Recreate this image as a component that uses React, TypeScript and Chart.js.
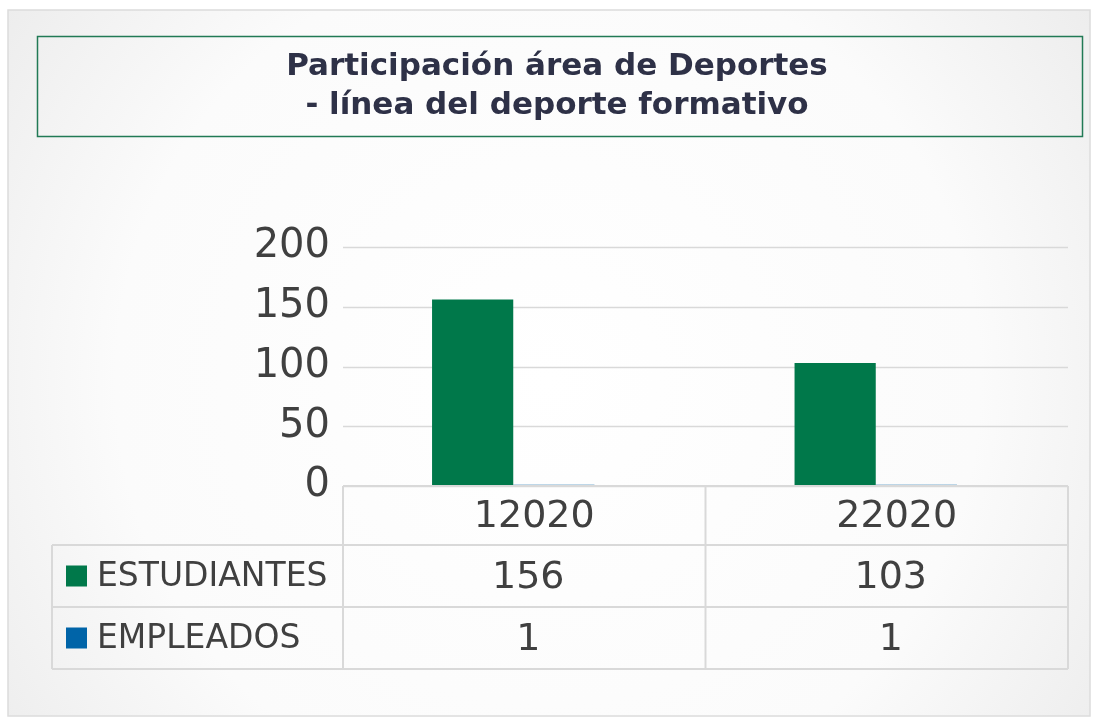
import React, { useEffect, useRef } from "react";
import { Chart, registerables } from "chart.js";
Chart.register(...registerables);

const titleLines = ["Participación área de Deportes", "- línea del deporte formativo"];
const categories = ["12020", "22020"];
const seriesNames = ["ESTUDIANTES", "EMPLEADOS"];
const estudiantes = [156, 103];
const empleados = [1, 1];
const seriesColors = ["#00784A", "#0064A8"];
const yMax = 200;
const yStep = 50;

const SHIFT = 11; // table/grid sit slightly right of the bar groups, as in the reference

export default function App() {
  const ref = useRef<HTMLCanvasElement>(null);
  useEffect(() => {
    const ctx = ref.current!.getContext("2d")!;
    const seriesValues = [estudiantes, empleados];

    const bgPlugin = {
      id: "bg",
      beforeDraw(chart: any) {
        const c = chart.ctx;
        c.save();
        c.fillStyle = "#ffffff";
        c.fillRect(0, 0, chart.width, chart.height);
        const g = c.createRadialGradient(548, 380, 0, 548, 380, 720);
        g.addColorStop(0, "#ffffff");
        g.addColorStop(0.6, "#fbfbfb");
        g.addColorStop(1, "#e9e9e9");
        c.fillStyle = g;
        c.fillRect(8, 10, 1082, 706);
        c.strokeStyle = "#dcdcdc";
        c.lineWidth = 1.5;
        c.strokeRect(8, 10, 1082, 706);
        // title box
        c.strokeStyle = "#217A55";
        c.lineWidth = 1.5;
        c.strokeRect(37.5, 36.5, 1045, 100);
        c.fillStyle = "#2E3147";
        c.font = "bold 31px 'DejaVu Sans'";
        c.textAlign = "center";
        c.textBaseline = "middle";
        c.fillText(titleLines[0], 557, 67);
        c.fillText(titleLines[1], 557, 106);
        c.restore();
      },
      beforeDatasetsDraw(chart: any) {
        const c = chart.ctx;
        const area = chart.chartArea;
        const ys = chart.scales.y;
        c.save();
        c.strokeStyle = "#d9d9d9";
        c.lineWidth = 1.5;
        c.beginPath();
        for (let v = 0; v <= yMax; v += yStep) {
          const y = Math.round(ys.getPixelForValue(v)) + 0.5;
          c.moveTo(area.left + SHIFT, y);
          c.lineTo(area.right + SHIFT, y);
        }
        c.stroke();
        c.restore();
      },
    };

    const tablePlugin = {
      id: "table",
      afterDraw(chart: any) {
        const c = chart.ctx;
        const area = chart.chartArea;
        const xs = chart.scales.x;
        const n = categories.length;
        const cw = (area.right - area.left) / n;
        const left = area.left + SHIFT;
        const right = area.right + SHIFT;
        const top = area.bottom;
        const rowH = [59, 62, 62];
        const tableLeft = 52;
        c.save();
        c.strokeStyle = "#d9d9d9";
        c.lineWidth = 2;
        let y = top;
        c.beginPath();
        c.moveTo(left, y);
        c.lineTo(right, y);
        const ys = [top];
        for (let r = 0; r < rowH.length; r++) {
          y += rowH[r];
          ys.push(y);
          c.moveTo(tableLeft, y);
          c.lineTo(right, y);
        }
        for (let i = 0; i <= n; i++) {
          const x = left + i * cw;
          c.moveTo(x, top);
          c.lineTo(x, ys[ys.length - 1]);
        }
        c.moveTo(tableLeft, ys[1]);
        c.lineTo(tableLeft, ys[ys.length - 1]);
        c.stroke();

        c.fillStyle = "#404040";
        c.textAlign = "center";
        c.textBaseline = "middle";
        c.font = "38px 'DejaVu Sans'";
        for (let i = 0; i < n; i++) {
          const cx = xs.getPixelForValue(i) + SHIFT;
          c.fillText(categories[i], cx + 10, (ys[0] + ys[1]) / 2 + 2);
          for (let s = 0; s < seriesValues.length; s++) {
            c.fillText(String(seriesValues[s][i]), cx + 4, (ys[s + 1] + ys[s + 2]) / 2 + 2);
          }
        }
        c.textAlign = "left";
        c.font = "33px 'DejaVu Sans'";
        for (let s = 0; s < seriesNames.length; s++) {
          const cy = (ys[s + 1] + ys[s + 2]) / 2;
          c.fillStyle = seriesColors[s];
          c.fillRect(66, cy - 10.5, 21, 21);
          c.fillStyle = "#404040";
          c.fillText(seriesNames[s], 97, cy + 1);
        }
        c.restore();
      },
    };

    const chart = new Chart(ctx, {
      type: "bar",
      data: {
        labels: categories,
        datasets: seriesNames.map((name, s) => ({
          label: name,
          data: seriesValues[s],
          backgroundColor: seriesColors[s],
          borderWidth: 0,
          barPercentage: 1,
          categoryPercentage: 0.448,
        })),
      },
      options: {
        responsive: false,
        animation: false,
        layout: { padding: { left: 0, right: 29 + SHIFT, top: 247, bottom: 231 } },
        plugins: { legend: { display: false }, tooltip: { enabled: false }, title: { display: false } },
        scales: {
          x: { display: false },
          y: {
            min: 0,
            max: yMax,
            ticks: {
              stepSize: yStep,
              font: { family: "DejaVu Sans", size: 40 },
              color: "#404040",
              padding: 2,
            },
            grid: { display: false, drawTicks: false },
            border: { display: false },
            afterFit: (scale: any) => {
              scale.width = 343 - SHIFT;
            },
          },
        },
      },
      plugins: [bgPlugin, tablePlugin],
    });
    return () => chart.destroy();
  }, []);
  return (
    <div style={{ position: "fixed", left: 0, top: 0, width: 1097, height: 717, background: "#fff" }}>
      <canvas ref={ref} width={1097} height={717} style={{ display: "block", width: 1097, height: 717 }} />
    </div>
  );
}
